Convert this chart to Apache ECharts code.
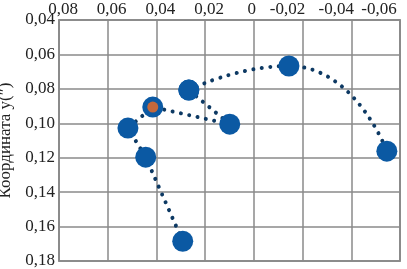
<!DOCTYPE html>
<html><head><meta charset="utf-8">
<script src="https://cdn.jsdelivr.net/npm/echarts@6/dist/echarts.min.js"></script>
<style>html,body{margin:0;padding:0;background:#fff}#c{width:407px;height:269px}</style>
</head><body><div id="c"></div>
<script>
// Path of pole coordinates (in drawing order)
var xValues = [0.0292, 0.0444, 0.0517, 0.0415, 0.0099, 0.0267, -0.0144, -0.0546];
var yValues = [0.1685, 0.1197, 0.1028, 0.0906, 0.1005, 0.0807, 0.0667, 0.1162];
// Highlighted point
var highlightX = [0.0415];
var highlightY = [0.0906];
var xTicks = ['0,08','0,06','0,04','0,02','0','-0,02','-0,04','-0,06'];
var yTicks = ['0,04','0,06','0,08','0,10','0,12','0,14','0,16','0,18'];
var yName = 'Координата y(″)';

function fmt(v){ if (Math.abs(v) < 1e-9) return '0'; return v.toFixed(2).replace('.', ','); }
function fmtX(v){
  var t = fmt(v);
  if (t === '0') return '{z|' + t + '}';
  if (v < -0.05) return '{e|' + t + '}';
  if (v < 0) return '{n|' + t + '}';
  return '{p|' + t + '}';
}
function pts(a, b){ var r = []; for (var i = a; i <= b; i++) r.push([xValues[i], yValues[i]]); return r; }

var chart = echarts.init(document.getElementById('c'), null, {renderer:'canvas'});
var font = 'Liberation Serif';
var grey = '#8a8a8a';
var txt = '#222';
var fs = 17;
var lineStyle = {color: '#0d3963', width: 4, type: [0.01, 8.5], cap: 'round'};
var splitLine = {show: true, showMinLine: true, showMaxLine: true, lineStyle: {color: grey, width: 1.5}};
var edgeLine = {show: true, onZero: false, lineStyle: {color: grey, width: 1.5}};
function rs(pad){ return {fontFamily: font, fontSize: fs, color: txt, padding: pad}; }
chart.setOption({
  animation: false,
  textStyle: {fontFamily: font},
  grid: {left: 59, right: 7, top: 20, bottom: 8, containLabel: false, outerBoundsMode: 'none',
         show: true, borderColor: grey, borderWidth: 1.5, backgroundColor: 'rgba(0,0,0,0)'},
  xAxis: [{
    type: 'value', position: 'top', inverse: true,
    min: -0.06, max: 0.08, interval: 0.02,
    axisLine: edgeLine,
    axisTick: {show: false},
    splitLine: splitLine,
    axisLabel: {formatter: fmtX, color: txt, fontFamily: font, fontSize: fs, margin: 2,
      rich: {p: rs([0,0,0,8]), z: rs([0,4,0,0]), n: rs([0,30,0,0]), e: rs([0,42,0,0])}}
  }, {
    type: 'value', position: 'bottom', inverse: true,
    min: -0.06, max: 0.08, interval: 0.02,
    axisLine: edgeLine,
    axisTick: {show: false}, axisLabel: {show: false}, splitLine: {show: false}
  }],
  yAxis: [{
    type: 'value', inverse: true, position: 'left',
    min: 0.04, max: 0.18, interval: 0.02,
    name: yName, nameLocation: 'middle', nameGap: 39,
    nameTextStyle: {color: txt, fontFamily: font, fontSize: 17},
    axisLine: edgeLine,
    axisTick: {show: false},
    splitLine: splitLine,
    axisLabel: {formatter: fmt, color: txt, fontFamily: font, fontSize: fs, margin: 4}
  }, {
    type: 'value', inverse: true, position: 'right',
    min: 0.04, max: 0.18, interval: 0.02,
    axisLine: edgeLine,
    axisTick: {show: false}, axisLabel: {show: false}, splitLine: {show: false}
  }],
  series: [{
    type: 'line',
    data: pts(0, 5),
    symbol: 'circle', symbolSize: 21,
    itemStyle: {color: '#0b59a3'},
    lineStyle: lineStyle,
    z: 2
  }, {
    type: 'line',
    data: pts(5, 7),
    smooth: 0.6,
    symbol: 'circle', symbolSize: 21,
    itemStyle: {color: '#0b59a3'},
    lineStyle: lineStyle,
    z: 2
  }, {
    type: 'scatter',
    data: highlightX.map(function(x, i){ return [x, highlightY[i]]; }),
    symbol: 'circle', symbolSize: 11,
    itemStyle: {color: '#f26b21'},
    z: 3
  }]
});
</script></body></html>
